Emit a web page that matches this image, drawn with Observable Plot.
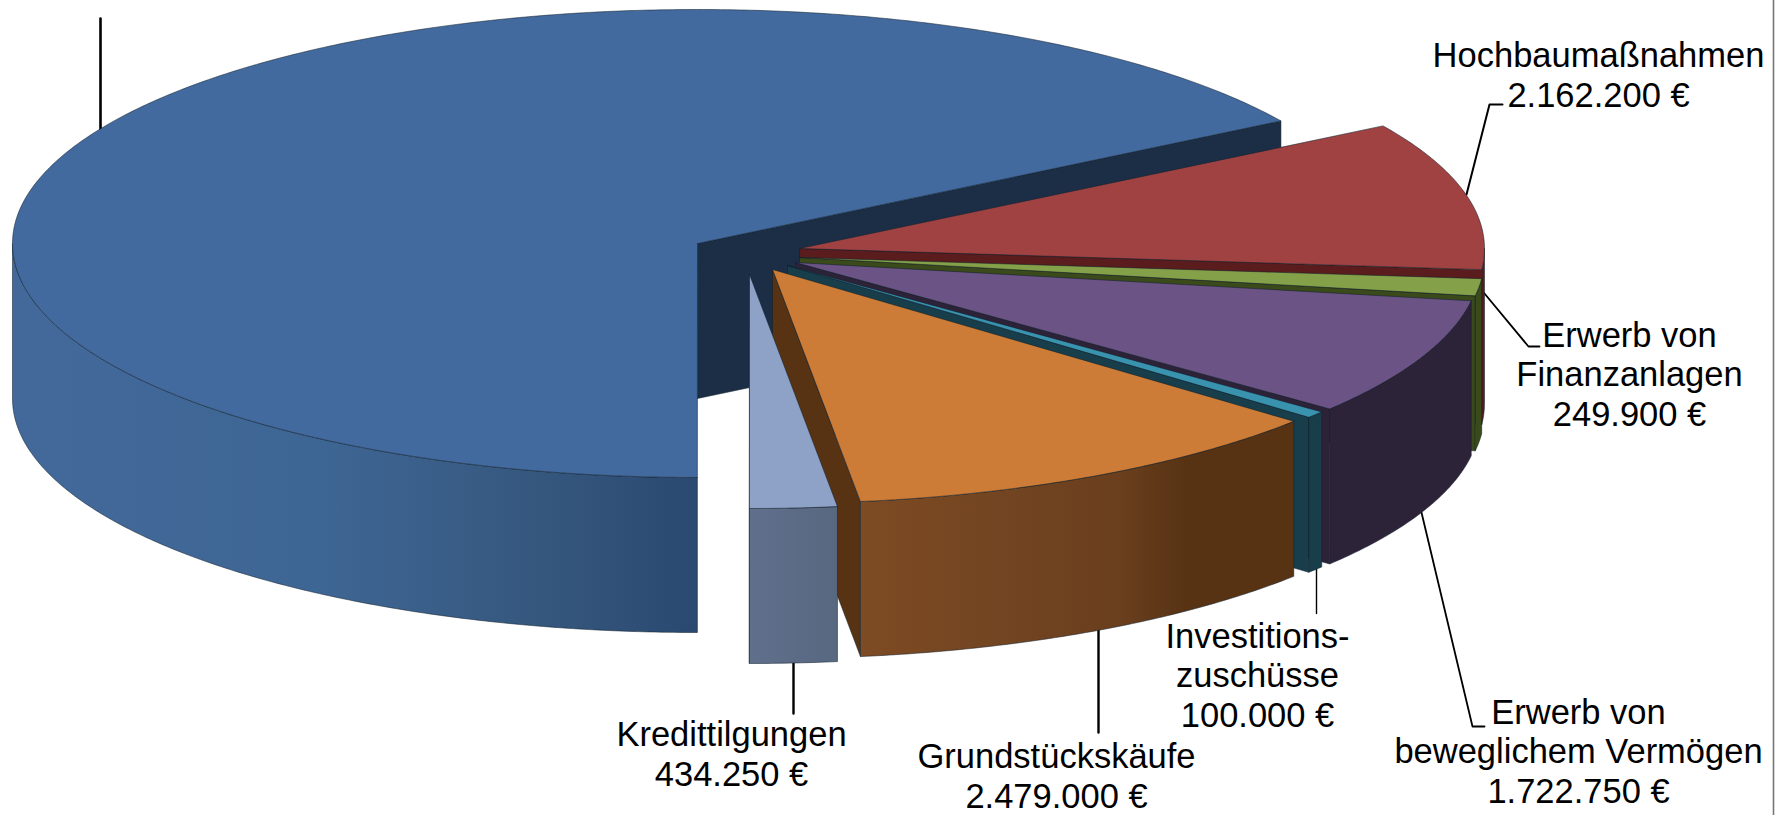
<!DOCTYPE html>
<html lang="de">
<head>
<meta charset="utf-8">
<title>Investitionsausgaben</title>
<script src="https://cdn.jsdelivr.net/npm/d3@7"></script>
<script src="https://cdn.jsdelivr.net/npm/@observablehq/plot@0.6"></script>
<style>
html,body{margin:0;padding:0;background:#fff;overflow:hidden}
svg{display:block}
</style>
</head>
<body>
<div id="chart"></div>
<script>
// ---- data (clockwise order, beginning behind the largest slice's cut edge)
const categories = ["Hochbaumaßnahmen","Erwerb von Finanzanlagen","Erwerb von beweglichem Vermögen","Investitionszuschüsse","Grundstückskäufe","Kredittilgungen","Sonstige (Beschriftung abgeschnitten)"];
const values = [2162200, 249900, 1722750, 100000, 2479000, 434250, 14012000]; // the last is estimated from its angle
const labels = ["Hochbaumaßnahmen\n2.162.200 €","Erwerb von\nFinanzanlagen\n249.900 €","Erwerb von\nbeweglichem Vermögen\n1.722.750 €","Investitions-\nzuschüsse\n100.000 €","Grundstückskäufe\n2.479.000 €","Kredittilgungen\n434.250 €"];

// ---- style
const topColors  = ["#a04241","#84a149","#6b5485","#3a93ae","#cc7c37","#8ea2c8","#426a9e"];
const wallColors = ["#5a1c1c","#3a4a1b","#2d2338","#173e4a","#573314","#5a6a88","#1b2e45"];
const rimColors  = ["#5a1c1c","#3a4a1b","#2d2338","#173e4a",
  [["0","#7d4b24"],["0.6","#6a3f1e"],["0.75","#573314"],["1","#573314"]],
  [["0","#606f8c"],["1","#586880"]],
  [["0","#42699a"],["0.45","#3e6694"],["0.75","#36587f"],["1","#2b4970"]]];

// ---- layout: how the flat pie is laid on the picture
const W = 1788, H = 815;
const rx = 685, ry = 234, depth = 155;
const startAngle = 58.4;                     // degrees clockwise from 12 o'clock
const centers = [[799,248],[799,257],[795,262],[787,265],[772,269],[749,274],[697,243]];
const paintOrder = [6,0,1,2,3,4,5];

const total = d3.sum(values);
let acc = startAngle;
const slices = values.map((v,i)=>{const a0=acc; acc+=v/total*360; return {i,a0,a1:acc,cx:centers[i][0],cy:centers[i][1]};});

const pt = (s,a,dz=0)=>{const t=a*Math.PI/180; return {x:s.cx+rx*Math.sin(t), y:s.cy-ry*Math.cos(t)+dz};};
const arc = (s,a0,a1,dz=0)=>{
  const n=Math.max(2,Math.ceil(Math.abs(a1-a0)*2)), out=[];
  for(let k=0;k<=n;k++) out.push(pt(s,a0+(a1-a0)*k/n,dz));
  return out;
};
const close = pts=>[...pts,pts[0]];

function topFace(s){return close([{x:s.cx,y:s.cy},...arc(s,s.a0,s.a1)]);}
function endWall(s){
  const apex={x:s.cx,y:s.cy}, base={x:s.cx,y:s.cy+depth};
  return close([apex,pt(s,s.a1),pt(s,s.a1,depth),base]);
}
function rim(s){
  const a0=Math.max(s.a0,90), a1=Math.min(s.a1,270);
  if(a1<=a0) return null;
  return close([...arc(s,a0,a1),...arc(s,a1,a0,depth)]);
}

const outline = {stroke:"#10202c", strokeOpacity:0.6, strokeWidth:0.9, strokeLinejoin:"round"};
const poly = (pts,fill,extra={})=>Plot.line(pts,{x:"x",y:"y",fill,...outline,...extra});

const defsMark = ()=>{
  const defs=d3.create("svg:defs");
  rimColors.forEach((c,i)=>{
    if(typeof c==="string") return;
    const g=defs.append("linearGradient").attr("id","rim"+i).attr("x1",0).attr("x2",1).attr("y1",0).attr("y2",0);
    c.forEach(([o,col])=>g.append("stop").attr("offset",o).attr("stop-color",col));
  });
  return defs.node();
};

const pieMarks=[];
for(const i of paintOrder){
  const s=slices[i];
  const rc=rimColors[i], rimFill=typeof rc==="string"?rc:`url(#rim${i})`;
  pieMarks.push(poly(endWall(s),wallColors[i]));
  const r=rim(s);
  if(r) pieMarks.push(poly(r,rimFill));
  pieMarks.push(poly(topFace(s),topColors[i]));
}

// ---- annotation
const labelPos = [[1598,74],[1629,373],[1578,750],[1257,674],[1056,775],[731,753]];
const labelRows = labels.map((text,i)=>({text,x:labelPos[i][0],y:labelPos[i][1]}));
const leaders = [
  {w:2,p:[[1466,194],[1489,104],[1502,104]]},
  {w:1.8,p:[[1479,287],[1528,346],[1539,346]]},
  {w:1.8,p:[[1421,512],[1472,726],[1484,726]]},
  {w:1.4,p:[[1316,568],[1316,613]]},
  {w:2.4,p:[[1098,629],[1098,732]]},
  {w:2.4,p:[[793,659],[793,713]]},
  {w:2.6,p:[[100,18],[100,129]]}
];

const chart = Plot.plot({
  width:W, height:H, margin:0,
  style:{background:"#fff",overflow:"hidden"},
  x:{domain:[0,W],range:[0,W],axis:null},
  y:{domain:[0,H],range:[0,H],axis:null},
  marks:[
    defsMark,
    Plot.ruleX([1773],{stroke:"#777",strokeWidth:1.6}),
    ...leaders.map(l=>Plot.line(l.p,{x:d=>d[0],y:d=>d[1],stroke:"#000",strokeWidth:l.w})),
    ...pieMarks,
    Plot.text(labelRows,{x:"x",y:"y",text:"text",fontFamily:"Liberation Sans",fontSize:34.5,lineHeight:1.15,fill:"#000",textAnchor:"middle",lineAnchor:"middle"})
  ]
});
document.getElementById("chart").append(chart);
</script>
</body>
</html>
